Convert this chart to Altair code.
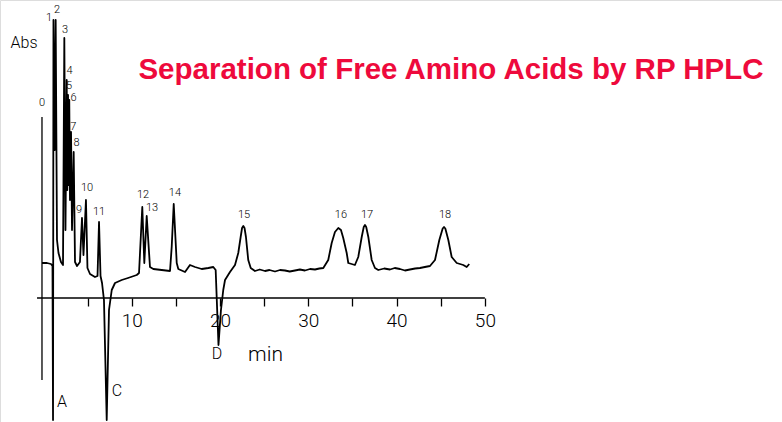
import altair as alt
import pandas as pd

# Chromatogram trace: retention time (min) and detector signal (arbitrary units)
time_min = [
    -0.16, 0.41, 0.86, 1.03, 1.09, 1.14, 1.28, 1.39, 1.54, 1.71, 1.99, 2.22,
    2.37, 2.50, 2.64, 2.71, 2.79, 2.87, 2.93, 3.01, 3.13, 3.24, 3.43, 3.58,
    3.81, 4.14, 4.37, 4.54, 4.82, 4.99, 5.28, 5.84, 6.13, 6.30, 6.47, 6.64,
    6.86, 7.17, 7.43, 7.74, 8.11, 8.87, 9.58, 10.57, 10.83, 11.20, 11.43, 11.70,
    12.07, 12.45, 13.40, 14.34, 14.53, 14.76, 15.10, 15.28, 16.04, 16.60, 17.17, 17.93,
    18.68, 19.24, 19.51, 19.83, 20.11, 20.37, 20.57, 21.13, 21.70, 22.07, 22.34, 22.50,
    22.64, 22.78, 22.94, 23.20, 23.48, 23.96, 24.50, 25.10, 25.60, 26.23, 26.80, 27.36,
    27.90, 28.49, 29.05, 29.62, 30.20, 30.76, 31.25, 31.70, 32.26, 32.65, 33.02, 33.40,
    33.70, 33.96, 34.35, 34.53, 35.28, 35.66, 36.05, 36.28, 36.42, 36.56, 36.80, 37.18,
    37.55, 37.93, 38.60, 39.25, 39.80, 40.38, 40.95, 41.51, 42.10, 42.65, 43.20, 43.78,
    44.35, 44.84, 45.22, 45.37, 45.52, 45.86, 46.24, 46.81, 47.55, 47.94, 48.23,
]
signal = [
    35, 35, 34, 32, -122, 278, 148, 278, 58, 45, 36, 33,
    260, 68, 218, 108, 203, 113, 198, 98, 166, 68, 146, 36,
    32, 36, 80, 43, 98, 30, 24, 21, 22, 76, 22, 15,
    -2, -122, -12, 8, 15, 18, 20, 23, 25, 91, 35, 82,
    31, 29, 28, 27, 51, 94, 35, 29, 26, 33, 31, 29,
    30, 31, 28, -47, -12, 8, 18, 26, 33, 45, 61, 70,
    72, 70, 61, 38, 30, 27, 28.5, 27, 28, 26.5, 28, 27.5,
    26.5, 27.5, 28.5, 27.5, 29, 28.5, 29.5, 30, 38, 55, 66, 70,
    68, 60, 45, 35, 33, 41, 61, 71, 73, 71, 61, 38,
    30, 28, 29.5, 28.5, 30, 29, 27.5, 28.5, 29.5, 30, 31, 32,
    38, 58, 69.5, 71, 69.5, 58, 41, 35, 33, 31, 34,
]

# Peak numbers and event letters with their label positions
peak_labels = ["0", "1", "2", "3", "4", "5", "6", "7", "8", "9", "10",
               "11", "12", "13", "14", "15", "16", "17", "18"]
peak_label_t = [-0.16, 0.63, 1.54, 2.45, 2.95, 2.90, 3.42, 3.40, 3.75, 4.03, 4.94,
                6.30, 11.28, 12.30, 14.90, 22.72, 33.70, 36.65, 45.48]
peak_label_v = [195, 280, 288, 268, 227, 212, 200, 171, 155, 88, 110,
                86, 103, 90, 105, 83, 83, 83, 83]

event_labels = ["A", "C", "D"]
event_t = [2.11, 8.34, 19.66]
event_v = [-104, -93, -56]

# Injection marker and time axis extent
marker_t = [-0.16]
marker_top = [181]
marker_bottom = [-82]
axis_start = [-0.72]
axis_end = [50]

title_text = ["Separation of Free Amino Acids by RP HPLC"]
title_t = [46.16]
title_v = [228]

trace = pd.DataFrame({"t": time_min, "v": signal, "order": range(len(time_min))})
labels = pd.DataFrame({"t": peak_label_t, "v": peak_label_v, "text": peak_labels})
events = pd.DataFrame({"t": event_t, "v": event_v, "text": event_labels})
marker = pd.DataFrame({"t": marker_t, "v": marker_top, "v2": marker_bottom})
axis_line = pd.DataFrame({"t": axis_start, "t2": axis_end, "v": [0]})
heading = pd.DataFrame({"t": title_t, "v": title_v, "text": title_text})

x_scale = alt.Scale(domain=[-4.915, 83.65], nice=False, zero=False)
y_scale = alt.Scale(domain=[-124, 298], nice=False, zero=False)

x_axis = alt.Axis(
    values=[5, 10, 15, 20, 25, 30, 35, 40, 45, 50],
    labelExpr="datum.value % 10 == 0 ? datum.label : ''",
    offset=-124, domain=False, grid=False,
    tickColor="black", tickSize=8, tickWidth=1.3,
    labelFont="Roboto", labelFontWeight=300, labelFontSize=19,
    labelColor="black", labelPadding=5,
    title="min", titleFont="Roboto", titleFontWeight=300, titleFontSize=21,
    titleColor="black", titleX=265, titleY=62, titleAlign="center",
    titleBaseline="alphabetic",
)
y_axis = alt.Axis(
    domain=False, ticks=False, labels=False, grid=False,
    title="Abs", titleAngle=0, titleX=10, titleY=47, titleAlign="left",
    titleBaseline="alphabetic", titleFont="Roboto", titleFontWeight=300,
    titleFontSize=16, titleColor="black",
)

X = alt.X("t:Q", scale=x_scale, axis=x_axis)
Y = alt.Y("v:Q", scale=y_scale, axis=y_axis)

line = alt.Chart(trace).mark_line(color="black", strokeWidth=1.8, strokeJoin="round").encode(
    x=X, y=Y, order="order:Q"
)
inject = alt.Chart(marker).mark_rule(color="black", strokeWidth=1.3).encode(
    x=X, y=Y, y2="v2:Q"
)
baseline_axis = alt.Chart(axis_line).mark_rule(color="black", strokeWidth=1.5).encode(
    x=X, x2="t2:Q", y=Y
)
peak_text = alt.Chart(labels).mark_text(
    font="Roboto", fontWeight=300, fontSize=11, color="black", baseline="middle"
).encode(x=X, y=Y, text="text:N")
event_text = alt.Chart(events).mark_text(
    font="Roboto", fontWeight=300, fontSize=16, color="black", baseline="middle"
).encode(x=X, y=Y, text="text:N")
title_mark = alt.Chart(heading).mark_text(
    font="Liberation Sans", fontWeight="bold", fontSize=29.5, color="#ee0a3c",
    baseline="middle", align="center"
).encode(x=X, y=Y, text="text:N")

chart = alt.layer(
    baseline_axis, inject, line, peak_text, event_text, title_mark
).properties(
    width=782, height=422,
    autosize=alt.AutoSizeParams(type="none"),
    padding=0,
).configure_view(stroke=None).configure(background="white")

chart.save("out.html", embed_options={"renderer": "svg", "actions": False})
